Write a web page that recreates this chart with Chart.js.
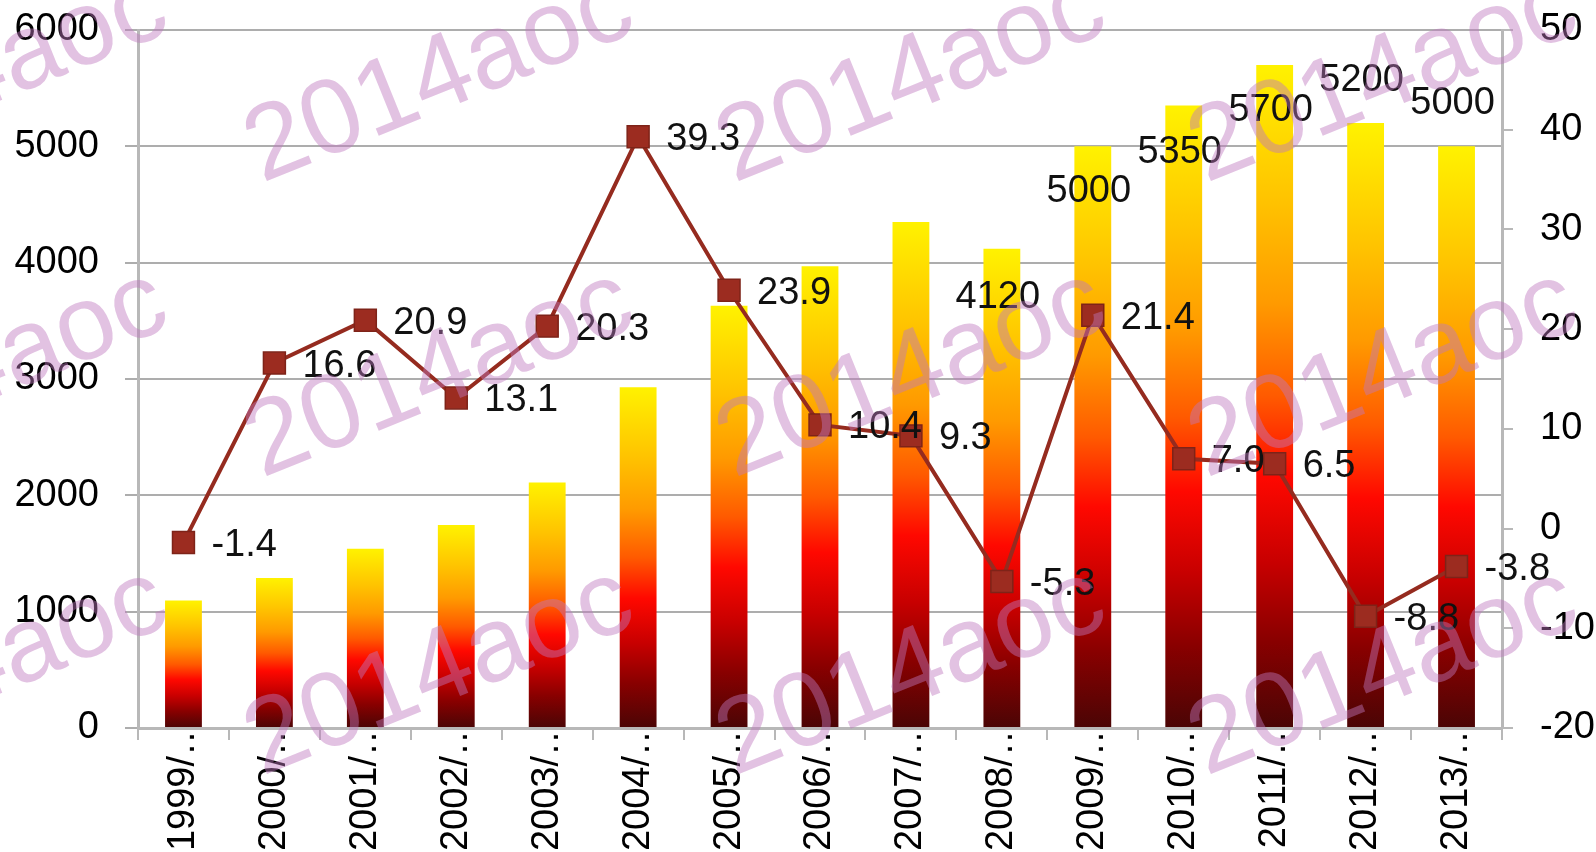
<!DOCTYPE html>
<html>
<head>
<meta charset="utf-8">
<script src="https://cdn.jsdelivr.net/npm/chart.js@4.4.1/dist/chart.umd.min.js"></script>
<style>
  html, body { margin: 0; padding: 0; background: #fff; }
  canvas { display: block; }
</style>
</head>
<body>
<canvas id="chart" width="1596" height="852"></canvas>
<script>
const categories = ['1999/…', '2000/…', '2001/…', '2002/…', '2003/…', '2004/…', '2005/…', '2006/…',
    '2007/…', '2008/…', '2009/…', '2010/…', '2011/…', '2012/…', '2013/…'];
const salesValues = [1095, 1290, 1540, 1745, 2110, 2930, 3630, 3970, 4350, 4120, 5000, 5350, 5700, 5200, 5000];
const growthValues = [-1.4, 16.6, 20.9, 13.1, 20.3, 39.3, 23.9, 10.4, 9.3, -5.3, 21.4, 7.0, 6.5, -8.8, -3.8];
const salesTicks = [0, 1000, 2000, 3000, 4000, 5000, 6000];
const growthTicks = [-20, -10, 0, 10, 20, 30, 40, 50];

// only the last bars carry a value label, each nudged a bit like the original
const salesLabelFrom = 9;
const salesLabelShift = [49, 45, 47, 46, -43, -43];

const FONT = "'Liberation Sans', Arial, sans-serif";
Chart.defaults.font.family = FONT;
Chart.defaults.color = '#000';

const barFill = (ctx) => {
    const chart = ctx.chart;
    if (!chart.chartArea || ctx.type !== 'data') return '#ff8000';
    const y = chart.scales.y;
    const top = y.getPixelForValue(ctx.raw);
    const base = y.getPixelForValue(0);
    const g = chart.ctx.createLinearGradient(0, top, 0, base);
    g.addColorStop(0, '#fff200');
    g.addColorStop(0.2, '#ffc400');
    g.addColorStop(0.36, '#ff9a00');
    g.addColorStop(0.5, '#ff5a00');
    g.addColorStop(0.62, '#ff0800');
    g.addColorStop(0.75, '#c80000');
    g.addColorStop(0.87, '#880000');
    g.addColorStop(1, '#4a0505');
    return g;
};

const valueLabels = {
    id: 'valueLabels',
    afterDatasetsDraw(chart) {
        const c = chart.ctx;
        c.save();
        c.font = '38px ' + FONT;
        c.fillStyle = '#111';
        c.textBaseline = 'middle';
        c.textAlign = 'left';
        chart.getDatasetMeta(1).data.forEach((pt, i) => {
            c.fillText(growthValues[i].toFixed(1), pt.x + 28, pt.y + 3);
        });
        c.textAlign = 'center';
        chart.getDatasetMeta(0).data.forEach((bar, i) => {
            if (i < salesLabelFrom) return;
            c.fillText(String(salesValues[i]), bar.x - 4, bar.y + salesLabelShift[i - salesLabelFrom]);
        });
        c.restore();
    }
};

const stamp = {
    id: 'stamp',
    afterDraw(chart) {
        const c = chart.ctx;
        c.save();
        c.font = '106px ' + FONT;
        c.fillStyle = 'rgba(190, 120, 190, 0.45)';
        for (const y of [183, 478, 776]) {
            for (const x of [-204, 262, 734, 1206]) {
                c.save();
                c.translate(x, y);
                c.rotate(-22 * Math.PI / 180);
                c.fillText('2014aoc', 0, 0);
                c.restore();
            }
        }
        c.restore();
    }
};

const gridGrey = '#adadad';
const axisGrey = '#b8b8b8';
const plainTick = (v) => String(v);
const noPad = (s, w) => { s.width = w; s.paddingTop = 0; s.paddingBottom = 0; };

new Chart(document.getElementById('chart').getContext('2d'), {
    data: {
        labels: categories,
        datasets: [
            {
                type: 'bar',
                data: salesValues,
                yAxisID: 'y',
                backgroundColor: barFill,
                categoryPercentage: 1,
                barPercentage: 0.405,
                order: 2
            },
            {
                type: 'line',
                data: growthValues,
                yAxisID: 'y1',
                borderColor: '#952b1f',
                borderWidth: 4,
                tension: 0,
                pointStyle: 'rect',
                pointRadius: 15.5,
                pointHoverRadius: 15.5,
                pointBackgroundColor: '#9c2c20',
                pointBorderColor: '#7e2318',
                pointBorderWidth: 1.5,
                order: 1
            }
        ]
    },
    options: {
        responsive: false,
        animation: false,
        layout: { padding: { top: 30, left: 0, right: 0, bottom: 0 } },
        plugins: { legend: { display: false }, tooltip: { enabled: false } },
        scales: {
            x: {
                offset: true,
                grid: { drawOnChartArea: false, offset: true, tickLength: 12, color: axisGrey, lineWidth: 2 },
                border: { color: axisGrey, width: 3 },
                ticks: { minRotation: 90, maxRotation: 90, autoSkip: false, padding: -22, font: { size: 38 } },
                afterFit: (s) => { s.height = 124; s.paddingLeft = 0; s.paddingRight = 0; }
            },
            y: {
                position: 'left',
                min: salesTicks[0],
                max: salesTicks[salesTicks.length - 1],
                afterBuildTicks: (s) => { s.ticks = salesTicks.map(v => ({ value: v })); },
                grid: { color: gridGrey, lineWidth: 2, tickLength: 13 },
                border: { color: axisGrey, width: 3 },
                ticks: { padding: 26, font: { size: 38 }, callback: plainTick },
                afterFit: (s) => noPad(s, 138)
            },
            y1: {
                position: 'right',
                min: growthTicks[0],
                max: growthTicks[growthTicks.length - 1],
                afterBuildTicks: (s) => { s.ticks = growthTicks.map(v => ({ value: v })); },
                grid: { drawOnChartArea: false, color: axisGrey, lineWidth: 2, tickLength: 11 },
                border: { color: axisGrey, width: 3 },
                ticks: { padding: 27, font: { size: 38 }, callback: plainTick },
                afterFit: (s) => noPad(s, 94)
            }
        }
    },
    plugins: [valueLabels, stamp]
});
</script>
</body>
</html>
